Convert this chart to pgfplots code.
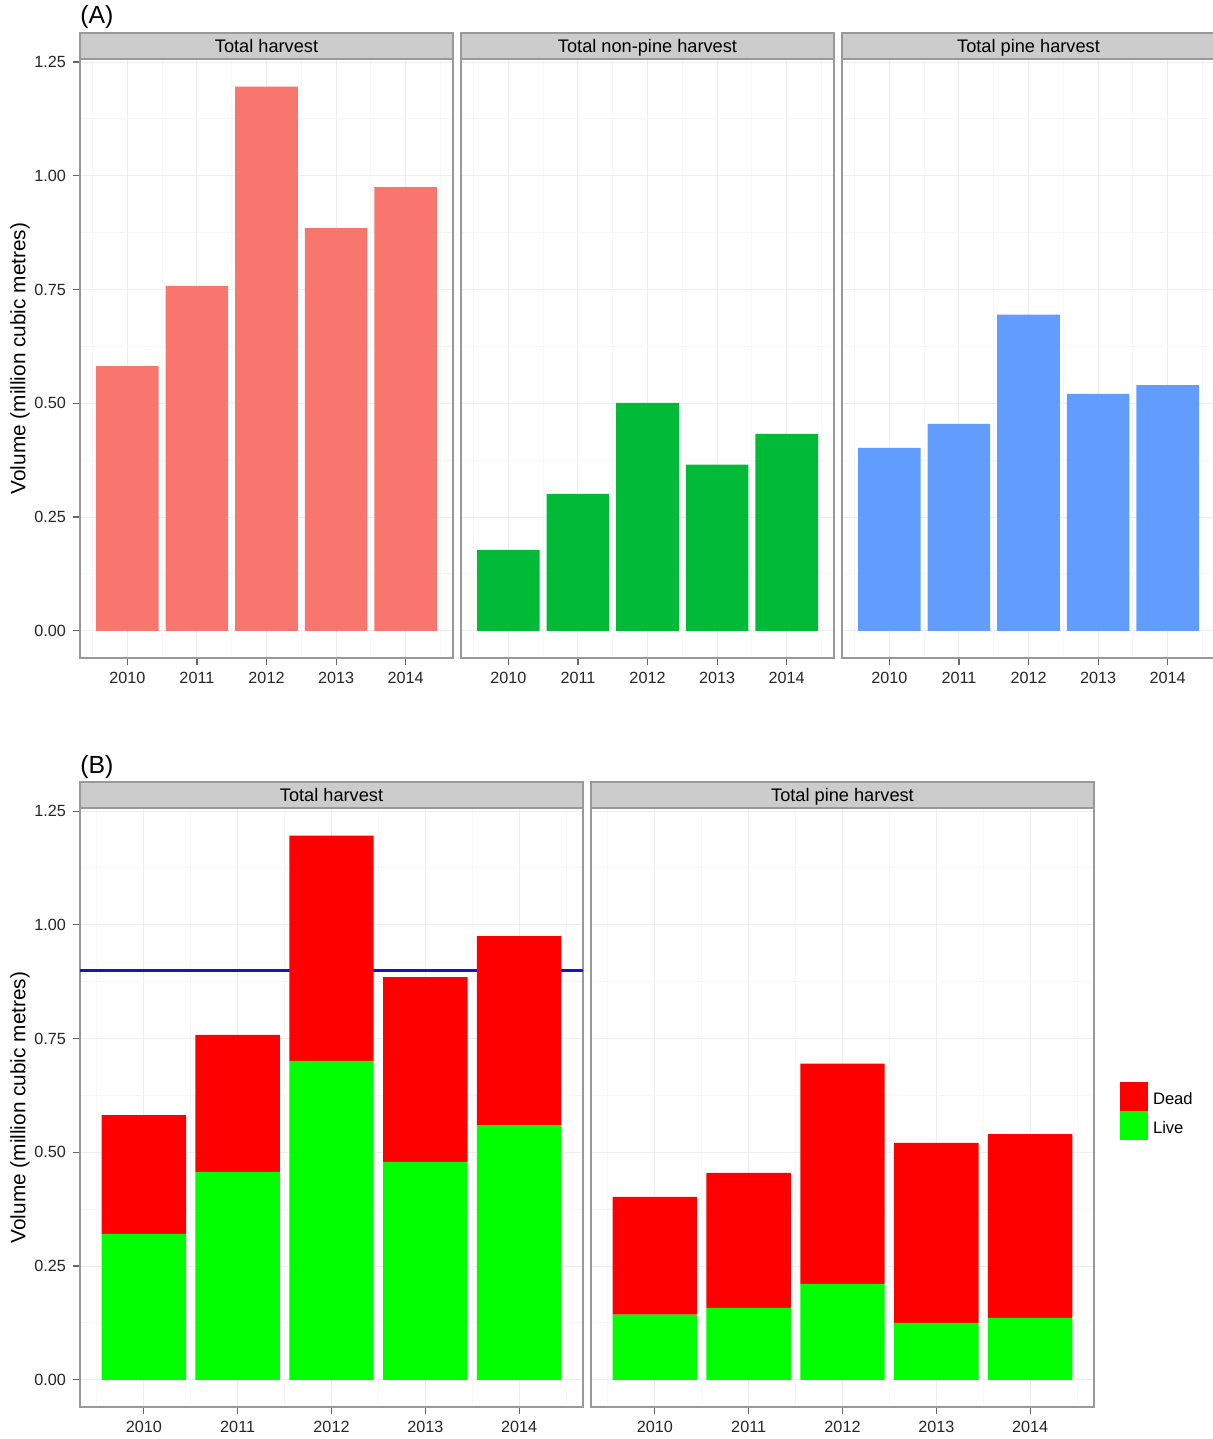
\documentclass[border=0pt]{standalone}
\usepackage{fontspec}
\setmainfont{Liberation Sans}
\usepackage{pgfplots}
\pgfplotsset{compat=1.18}
\definecolor{cRed}{HTML}{F8766D}
\definecolor{cGreen}{HTML}{00BA38}
\definecolor{cBlue}{HTML}{619CFF}
\definecolor{stripgray}{HTML}{CCCCCC}
\definecolor{bordergray}{HTML}{999999}
\definecolor{lineblue}{RGB}{20,20,200}
\newcommand\tickfont{\fontsize{8.1}{9.7}\selectfont\color{black!85}}
\newcommand\stripfont{\fontsize{9.1}{10.5}\selectfont}
\newcommand\legfont{\fontsize{8.3}{10}\selectfont}
\newcommand\labfont{\fontsize{10.4}{12}\selectfont}
\pgfplotsset{
  facet/.style={
    scale only axis, clip=false,
    height=299.5pt,
    xmin=2009.32, xmax=2014.68,
    ymin=-0.0598, ymax=1.2568,
    xtick={2010,2011,2012,2013,2014},
    ytick={0,0.25,0.5,0.75,1,1.25},
    minor xtick={2009.5,2010.5,2011.5,2012.5,2013.5,2014.5},
    minor ytick={0.125,0.375,0.625,0.875,1.125},
    grid=both,
    major grid style={gray!13, line width=0.5pt},
    minor grid style={gray!6, line width=0.5pt},
    tick align=outside, major tick length=3.5pt, minor tick length=0pt,
    xtick pos=bottom, ytick pos=left,
    axis line style={bordergray, line width=0.6pt},
    every tick/.style={black!60, line width=0.6pt},
    /pgf/number format/1000 sep={},
    /pgf/number format/assume math mode=true,
    xticklabel style={font=\tickfont},
    yticklabel style={font=\tickfont, /pgf/number format/.cd, fixed, fixed zerofill, precision=2},
    every axis y label/.style={at={(axis description cs:0,0.5)}, xshift=-30pt, rotate=90, anchor=center, font=\labfont},
  },
  noy/.style={yticklabels={}, y tick style={draw opacity=0}},
}
\newcommand\strip[2]{%
  \fill[stripgray] (#1.north west) rectangle ([yshift=13pt]#1.north east);
  \draw[bordergray, line width=0.6pt] (#1.north west) rectangle ([yshift=13pt]#1.north east);
  \node[font=\stripfont, anchor=base, inner sep=0pt] at ([yshift=3.4pt]#1.north) {#2};
}
\begin{document}
\begin{tikzpicture}
\path[use as bounding box] (0,0) rectangle (606.5pt,-719.5pt);
\node[anchor=west, inner sep=0pt, font=\fontsize{12.4}{14}\selectfont] at (40pt,-8.5pt) {(A)};
\node[anchor=west, inner sep=0pt, font=\fontsize{12.4}{14}\selectfont] at (40pt,-383.5pt) {(B)};

% Panel A
\begin{axis}[facet, ybar, bar width=0.9, name=A1, width=186.5pt, at={(40pt,-29.5pt)}, anchor=north west,
  ylabel={Volume (million cubic metres)}]
\addplot[fill=cRed, draw=none] coordinates {(2010,0.582) (2011,0.758) (2012,1.196) (2013,0.885) (2014,0.975)};
\end{axis}
\begin{axis}[facet, ybar, bar width=0.9, name=A2, width=186.5pt, at={(230.5pt,-29.5pt)}, anchor=north west, noy]
\addplot[fill=cGreen, draw=none] coordinates {(2010,0.178) (2011,0.301) (2012,0.501) (2013,0.365) (2014,0.433)};
\end{axis}
\begin{axis}[facet, ybar, bar width=0.9, name=A3, width=186.5pt, at={(421pt,-29.5pt)}, anchor=north west, noy]
\addplot[fill=cBlue, draw=none] coordinates {(2010,0.402) (2011,0.455) (2012,0.695) (2013,0.521) (2014,0.540)};
\end{axis}
\strip{A1}{Total harvest}
\strip{A2}{Total non-pine harvest}
\strip{A3}{Total pine harvest}

% Panel B
\begin{axis}[facet, ybar stacked, bar width=0.9, name=B1, width=251.5pt, at={(40pt,-404pt)}, anchor=north west,
  ylabel={Volume (million cubic metres)}]
\addplot[fill=green, draw=none] coordinates {(2010,0.321) (2011,0.457) (2012,0.701) (2013,0.479) (2014,0.560)};
\addplot[fill=red, draw=none] coordinates {(2010,0.261) (2011,0.301) (2012,0.495) (2013,0.406) (2014,0.415)};
\draw[lineblue, line width=1.5pt] (axis cs:2009.32,0.9) -- (axis cs:2014.68,0.9);
\end{axis}
\begin{axis}[facet, ybar stacked, bar width=0.9, name=B2, width=251.5pt, at={(295.5pt,-404pt)}, anchor=north west, noy,
  reverse legend,
  legend style={at={(axis description cs:1.0517,0.5426)}, anchor=north west, draw=none, fill=none,
    inner sep=0pt, outer sep=0pt, row sep=0pt, font=\legfont,
    nodes={inner xsep=2.5pt, inner ysep=0pt}},
  legend cell align=left]
\addplot[fill=green, draw=none, legend image code/.code={\fill[green] (0pt,-5.5pt) rectangle (14pt,9pt);}] coordinates {(2010,0.143) (2011,0.158) (2012,0.211) (2013,0.125) (2014,0.136)};
\addplot[fill=red, draw=none, legend image code/.code={\fill[red] (0pt,-5.5pt) rectangle (14pt,9pt);}] coordinates {(2010,0.259) (2011,0.297) (2012,0.484) (2013,0.396) (2014,0.404)};
\legend{Live,Dead}
\end{axis}
\strip{B1}{Total harvest}
\strip{B2}{Total pine harvest}
\end{tikzpicture}
\end{document}
